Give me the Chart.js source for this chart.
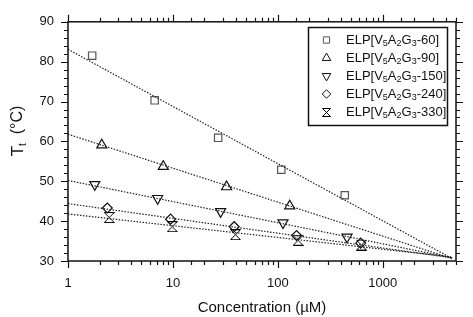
<!DOCTYPE html>
<html>
<head>
<meta charset="utf-8">
<script src="https://cdn.jsdelivr.net/npm/chart.js@4"></script>
<style>
  html, body { margin: 0; padding: 0; background: #fff; }
  #wrap { width: 473px; height: 317px; }
</style>
</head>
<body>
<div id="wrap"><canvas id="chart"></canvas></div>
<script>
// Данные: концентрация (мкМ) и температура перехода (°C)
const seriesNames = ['60', '90', '150', '240', '330'];

const conc60 = [1.7, 6.7, 27, 108, 435];
const tt60 = [81.5, 70.3, 60.9, 52.9, 46.5];

const conc90 = [2.1, 8.1, 32.5, 130];
const tt90 = [59.1, 53.7, 48.6, 43.8];

const conc150 = [1.8, 7.15, 28.5, 112, 457];
const tt150 = [49.2, 45.7, 42.4, 39.6, 36.0];

const conc240 = [2.37, 9.5, 38.4, 151, 617];
const tt240 = [43.3, 40.5, 38.6, 36.4, 34.5];

const conc330 = [2.47, 9.85, 39.5, 156, 627];
const tt330 = [40.9, 38.6, 36.6, 35.2, 34.0];

// Линии аппроксимации: начало (x=1) и конец (x=fitEndX)
const fitStartX = 1;
const fitEndX = 4600;
const fitStartY = [83.1, 61.8, 50.2, 44.4, 41.8];
const fitEndY = [30.6, 30.6, 30.8, 30.8, 31.0];

const xTickLabels = [1, 10, 100, 1000];
const yTickLabels = [30, 40, 50, 60, 70, 80, 90];

const FONT = '"Liberation Sans", Arial, sans-serif';

// Маркер "песочные часы"
function makeHourglass(size, lw) {
    const c = document.createElement('canvas');
    c.width = size; c.height = size;
    const g = c.getContext('2d');
    const p = 0.5;
    g.strokeStyle = '#000';
    g.lineWidth = lw;
    g.beginPath();
    g.moveTo(p, p); g.lineTo(size - p, p);
    g.lineTo(p, size - p); g.lineTo(size - p, size - p);
    g.closePath();
    g.stroke();
    return c;
}
const hourglassBig = makeHourglass(11, 1);
const hourglassSmall = makeHourglass(9, 1);

const markerStyles = [
    { style: 'rect', radius: 5.2, rotation: 0, color: '#555' },
    { style: 'triangle', radius: 5.8, rotation: 0, color: '#111' },
    { style: 'triangle', radius: 5.8, rotation: 180, color: '#111' },
    { style: 'rectRot', radius: 5, rotation: 0, color: '#111' },
    { style: hourglassBig, radius: 5, rotation: 0, color: '#111' }
];

const concs = [conc60, conc90, conc150, conc240, conc330];
const tts = [tt60, tt90, tt150, tt240, tt330];

const datasets = [];
concs.forEach((c, i) => {
    datasets.push({
        type: 'line',
        data: [{ x: fitStartX, y: fitStartY[i] }, { x: fitEndX, y: fitEndY[i] }],
        borderColor: '#222',
        borderWidth: 1.2,
        borderDash: [1.5, 1.5],
        pointRadius: 0,
        fill: false
    });
});
concs.forEach((c, i) => {
    const m = markerStyles[i];
    datasets.push({
        type: 'scatter',
        data: c.map((x, j) => ({ x: x, y: tts[i][j] })),
        pointStyle: m.style,
        pointRadius: m.radius,
        pointRotation: m.rotation,
        pointBorderColor: m.color,
        pointBackgroundColor: 'rgba(255,255,255,0)',
        pointBorderWidth: 1.2,
        showLine: false
    });
});

// Рамка и засечки по четырём сторонам
const framePlugin = {
    id: 'frame',
    afterDraw(chart) {
        const ctx = chart.ctx;
        const a = chart.chartArea;
        const xs = chart.scales.x, ys = chart.scales.y;
        ctx.save();
        ctx.strokeStyle = '#111';
        ctx.lineWidth = 1.5;
        ctx.strokeRect(a.left, a.top, a.right - a.left, a.bottom - a.top);
        ctx.lineWidth = 1.2;
        ctx.beginPath();
        xs.ticks.forEach(t => {
            const px = Math.round(xs.getPixelForValue(t.value)) + 0.5;
            const major = xTickLabels.includes(t.value);
            const len = major ? 7 : 4;
            ctx.moveTo(px, a.bottom); ctx.lineTo(px, a.bottom + len);
            ctx.moveTo(px, a.top); ctx.lineTo(px, a.top - len);
        });
        ys.ticks.forEach(t => {
            const py = Math.round(ys.getPixelForValue(t.value)) + 0.5;
            const major = yTickLabels.includes(t.value);
            const len = major ? 7 : 4;
            ctx.moveTo(a.left, py); ctx.lineTo(a.left - len, py);
            ctx.moveTo(a.right, py); ctx.lineTo(a.right + len, py);
        });
        ctx.stroke();

        // Подпись оси Y: T_t (°C)
        ctx.fillStyle = '#111';
        ctx.translate(18, 131);
        ctx.rotate(-Math.PI / 2);
        ctx.textBaseline = 'middle';
        ctx.font = '17px ' + FONT;
        const mainW = ctx.measureText('T').width;
        ctx.font = '10px ' + FONT;
        const subW = ctx.measureText('t').width;
        ctx.font = '16px ' + FONT;
        const restW = ctx.measureText('  (°C)').width;
        let x0 = -(mainW + subW + restW) / 2;
        ctx.textAlign = 'left';
        ctx.font = '17px ' + FONT;
        ctx.fillText('T', x0, 0);
        ctx.font = '10px ' + FONT;
        ctx.fillText('t', x0 + mainW, 5);
        ctx.font = '16px ' + FONT;
        ctx.fillText('  (°C)', x0 + mainW + subW, 0);
        ctx.restore();

        // Легенда
        drawLegend(ctx);
    }
};

function drawLegend(ctx) {
    const box = { left: 308.5, top: 27.5, right: 447.5, bottom: 125.5 };
    ctx.save();
    ctx.fillStyle = '#fff';
    ctx.fillRect(box.left, box.top, box.right - box.left, box.bottom - box.top);
    ctx.strokeStyle = '#111';
    ctx.lineWidth = 1.5;
    ctx.strokeRect(box.left, box.top, box.right - box.left, box.bottom - box.top);
    seriesNames.forEach((name, i) => {
        const y = 40 + i * 18;
        const mx = 326.5;
        const m = markerStyles[i];
        if (i === 4) {
            ctx.drawImage(hourglassSmall, Math.round(mx - 4.5), Math.round(y - 4.5));
        } else {
            ctx.strokeStyle = m.color;
            ctx.fillStyle = 'rgba(0,0,0,0)';
            ctx.lineWidth = 1;
            Chart.helpers.drawPoint(ctx, {
                pointStyle: m.style, radius: m.radius * 0.85,
                rotation: m.rotation, borderWidth: 1
            }, mx, y);
        }
        // ELP[V5A2G3-NN] с нижними индексами
        const parts = [['ELP[V', 0], ['5', 1], ['A', 0], ['2', 1], ['G', 0], ['3', 1], ['-' + name + ']', 0]];
        let x = 346;
        ctx.fillStyle = '#111';
        ctx.textBaseline = 'middle';
        ctx.textAlign = 'left';
        parts.forEach(([s, sub]) => {
            ctx.font = (sub ? '9px ' : '13px ') + FONT;
            ctx.fillText(s, x, sub ? y + 4 : y);
            x += ctx.measureText(s).width;
        });
    });
    ctx.restore();
}

new Chart(document.getElementById('chart'), {
    data: { datasets: datasets },
    options: {
        responsive: true,
        maintainAspectRatio: false,
        animation: false,
        layout: { padding: { top: 18, right: 17, left: 0, bottom: 0 } },
        plugins: {
            legend: { display: false },
            tooltip: { enabled: false }
        },
        scales: {
            x: {
                type: 'logarithmic',
                position: 'bottom',
                min: 1,
                max: 5000,
                grid: { display: false, drawTicks: false },
                border: { display: false },
                ticks: {
                    autoSkip: false,
                    maxRotation: 0,
                    padding: 15,
                    color: '#111',
                    font: { family: FONT, size: 13 },
                    callback: (v) => xTickLabels.includes(v) ? String(v) : ''
                },
                title: {
                    display: true,
                    text: 'Concentration (µM)',
                    color: '#111',
                    font: { family: FONT, size: 15 },
                    padding: { top: 0, bottom: 0 }
                },
                afterFit: (s) => { s.height = 56; }
            },
            y: {
                type: 'linear',
                min: 30,
                max: 90,
                grid: { display: false, drawTicks: false },
                border: { display: false },
                ticks: {
                    stepSize: 2,
                    autoSkip: false,
                    padding: 14,
                    color: '#111',
                    font: { family: FONT, size: 13 },
                    callback: (v) => yTickLabels.includes(v) ? String(v) : ''
                },
                afterFit: (s) => { s.width = 68; }
            }
        }
    },
    plugins: [framePlugin]
});
</script>
</body>
</html>
